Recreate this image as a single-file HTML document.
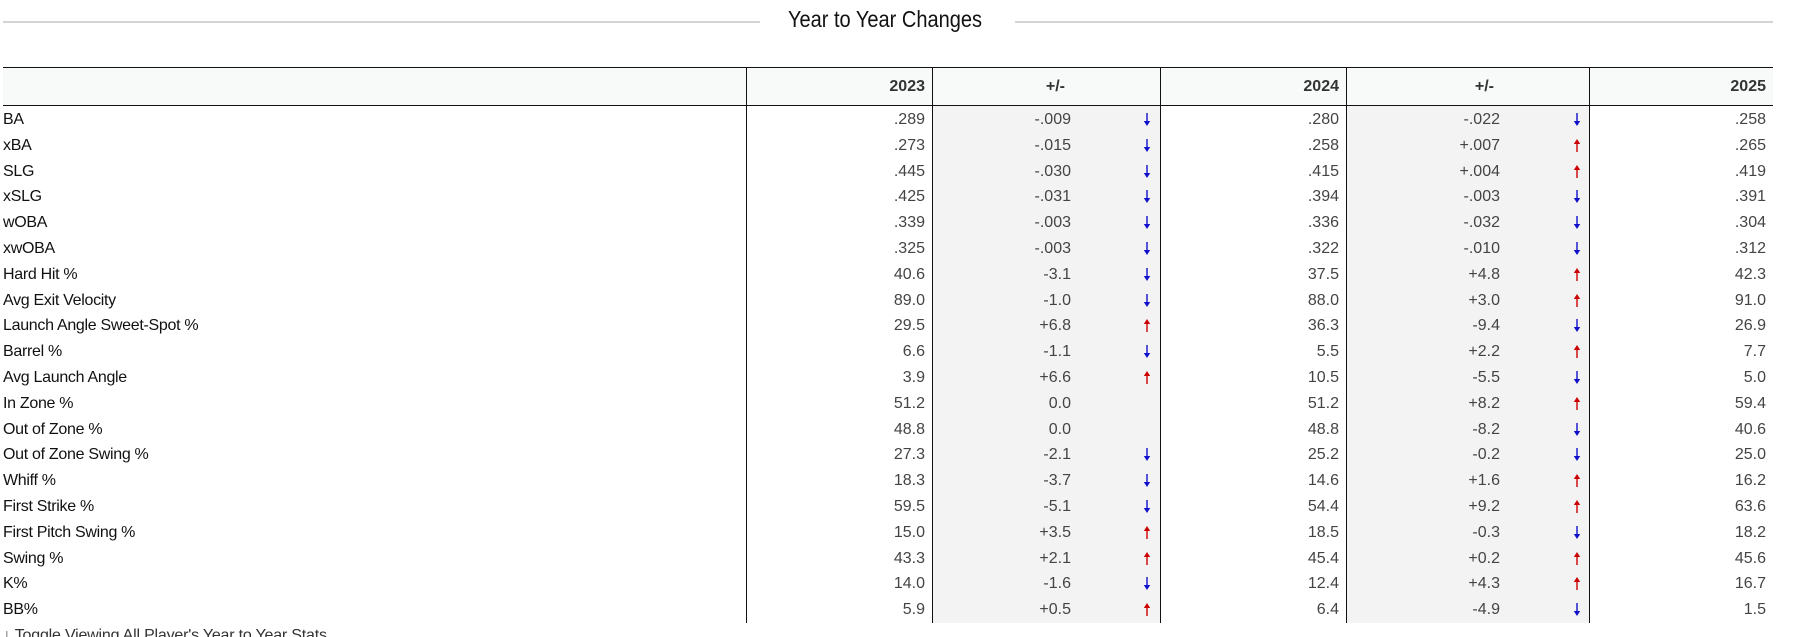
<!DOCTYPE html>
<html>
<head>
<meta charset="utf-8">
<style>
  html { margin:0; padding:0; width:1800px; height:637px; overflow:hidden; }
  body { margin:0; padding:0; width:1800px; height:637px; overflow:hidden; background:#fff; position:relative;
         font-family:"Liberation Sans", "DejaVu Sans", sans-serif; }
  .tline { position:absolute; top:21px; height:2px; background:#d4d4d4; }
  .title { position:absolute; left:788px; top:4px; font-size:23px; line-height:30px; color:#111;
           transform:scaleX(0.87); transform-origin:0 0; white-space:nowrap; }
  .hbg { position:absolute; left:3px; top:68px; width:1770px; height:37px; background:#f8f9f9; }
  .gbg { position:absolute; top:106px; height:517px; background:#f3f3f3; }
  .hl { position:absolute; left:3px; width:1770px; height:1px; background:#111; }
  .vl { position:absolute; top:67px; width:1px; height:556px; background:#111; }
  .row { position:absolute; left:0; width:1800px; height:25.8px; line-height:25.8px; font-size:16px; color:#444; }
  .row span { position:absolute; top:0; white-space:nowrap; }
  .hdr { position:absolute; left:0; top:68px; width:1800px; height:37px; line-height:37px; font-size:16px; font-weight:bold; color:#333; }
  .hdr span { position:absolute; top:0; }
  .lab { left:3px; color:#111; letter-spacing:-0.3px; }
  .c2 { right:875px; }
  .c3 { right:729px; }
  .c4 { right:461px; }
  .c5 { right:300px; }
  .c6 { right:34px; }
  svg.ar { position:absolute; top:6px; width:8px; height:13px; }
  .a1 { left:1143px; }
  .a2 { left:1573px; }
  .toggle { position:absolute; left:3px; top:626px; font-size:16px; line-height:20px; color:#333; white-space:nowrap; letter-spacing:-0.2px; }
</style>
</head>
<body>
  <div class="tline" style="left:3px;width:757px;"></div>
  <div class="tline" style="left:1015px;width:758px;"></div>
  <div class="title">Year to Year Changes</div>

  <div class="hbg"></div>
  <div class="gbg" style="left:933px;width:227px;"></div>
  <div class="gbg" style="left:1347px;width:242px;"></div>

  <div class="hl" style="top:67px;"></div>
  <div class="hl" style="top:105px;"></div>

  <div class="vl" style="left:746px;"></div>
  <div class="vl" style="left:932px;"></div>
  <div class="vl" style="left:1160px;"></div>
  <div class="vl" style="left:1346px;"></div>
  <div class="vl" style="left:1589px;"></div>

  <div class="hdr">
    <span class="c2">2023</span>
    <span style="right:735px;">+/-</span>
    <span class="c4">2024</span>
    <span style="right:306px;">+/-</span>
    <span class="c6">2025</span>
  </div>

  <svg width="0" height="0" style="position:absolute">
    <defs>
      <g id="dn"><rect x="3.3" y="0" width="1.4" height="9" fill="#1010cc"/><polygon points="0.8,8 7.2,8 4,13" fill="#1010cc"/></g>
      <g id="up"><rect x="3.3" y="4" width="1.4" height="9" fill="#cc0000"/><polygon points="0.8,5 7.2,5 4,0" fill="#cc0000"/></g>
    </defs>
  </svg>

  <div class="row" style="top:107px;"><span class="lab">BA</span><span class="c2">.289</span><span class="c3">-.009</span><svg class="ar a1" viewBox="0 0 8 13"><use href="#dn"/></svg><span class="c4">.280</span><span class="c5">-.022</span><svg class="ar a2" viewBox="0 0 8 13"><use href="#dn"/></svg><span class="c6">.258</span></div>
  <div class="row" style="top:132.8px;"><span class="lab">xBA</span><span class="c2">.273</span><span class="c3">-.015</span><svg class="ar a1" viewBox="0 0 8 13"><use href="#dn"/></svg><span class="c4">.258</span><span class="c5">+.007</span><svg class="ar a2" viewBox="0 0 8 13"><use href="#up"/></svg><span class="c6">.265</span></div>
  <div class="row" style="top:158.6px;"><span class="lab">SLG</span><span class="c2">.445</span><span class="c3">-.030</span><svg class="ar a1" viewBox="0 0 8 13"><use href="#dn"/></svg><span class="c4">.415</span><span class="c5">+.004</span><svg class="ar a2" viewBox="0 0 8 13"><use href="#up"/></svg><span class="c6">.419</span></div>
  <div class="row" style="top:184.4px;"><span class="lab">xSLG</span><span class="c2">.425</span><span class="c3">-.031</span><svg class="ar a1" viewBox="0 0 8 13"><use href="#dn"/></svg><span class="c4">.394</span><span class="c5">-.003</span><svg class="ar a2" viewBox="0 0 8 13"><use href="#dn"/></svg><span class="c6">.391</span></div>
  <div class="row" style="top:210.2px;"><span class="lab">wOBA</span><span class="c2">.339</span><span class="c3">-.003</span><svg class="ar a1" viewBox="0 0 8 13"><use href="#dn"/></svg><span class="c4">.336</span><span class="c5">-.032</span><svg class="ar a2" viewBox="0 0 8 13"><use href="#dn"/></svg><span class="c6">.304</span></div>
  <div class="row" style="top:236px;"><span class="lab">xwOBA</span><span class="c2">.325</span><span class="c3">-.003</span><svg class="ar a1" viewBox="0 0 8 13"><use href="#dn"/></svg><span class="c4">.322</span><span class="c5">-.010</span><svg class="ar a2" viewBox="0 0 8 13"><use href="#dn"/></svg><span class="c6">.312</span></div>
  <div class="row" style="top:261.8px;"><span class="lab">Hard Hit %</span><span class="c2">40.6</span><span class="c3">-3.1</span><svg class="ar a1" viewBox="0 0 8 13"><use href="#dn"/></svg><span class="c4">37.5</span><span class="c5">+4.8</span><svg class="ar a2" viewBox="0 0 8 13"><use href="#up"/></svg><span class="c6">42.3</span></div>
  <div class="row" style="top:287.6px;"><span class="lab">Avg Exit Velocity</span><span class="c2">89.0</span><span class="c3">-1.0</span><svg class="ar a1" viewBox="0 0 8 13"><use href="#dn"/></svg><span class="c4">88.0</span><span class="c5">+3.0</span><svg class="ar a2" viewBox="0 0 8 13"><use href="#up"/></svg><span class="c6">91.0</span></div>
  <div class="row" style="top:313.4px;"><span class="lab">Launch Angle Sweet-Spot %</span><span class="c2">29.5</span><span class="c3">+6.8</span><svg class="ar a1" viewBox="0 0 8 13"><use href="#up"/></svg><span class="c4">36.3</span><span class="c5">-9.4</span><svg class="ar a2" viewBox="0 0 8 13"><use href="#dn"/></svg><span class="c6">26.9</span></div>
  <div class="row" style="top:339.2px;"><span class="lab">Barrel %</span><span class="c2">6.6</span><span class="c3">-1.1</span><svg class="ar a1" viewBox="0 0 8 13"><use href="#dn"/></svg><span class="c4">5.5</span><span class="c5">+2.2</span><svg class="ar a2" viewBox="0 0 8 13"><use href="#up"/></svg><span class="c6">7.7</span></div>
  <div class="row" style="top:365px;"><span class="lab">Avg Launch Angle</span><span class="c2">3.9</span><span class="c3">+6.6</span><svg class="ar a1" viewBox="0 0 8 13"><use href="#up"/></svg><span class="c4">10.5</span><span class="c5">-5.5</span><svg class="ar a2" viewBox="0 0 8 13"><use href="#dn"/></svg><span class="c6">5.0</span></div>
  <div class="row" style="top:390.8px;"><span class="lab">In Zone %</span><span class="c2">51.2</span><span class="c3">0.0</span><span class="c4">51.2</span><span class="c5">+8.2</span><svg class="ar a2" viewBox="0 0 8 13"><use href="#up"/></svg><span class="c6">59.4</span></div>
  <div class="row" style="top:416.6px;"><span class="lab">Out of Zone %</span><span class="c2">48.8</span><span class="c3">0.0</span><span class="c4">48.8</span><span class="c5">-8.2</span><svg class="ar a2" viewBox="0 0 8 13"><use href="#dn"/></svg><span class="c6">40.6</span></div>
  <div class="row" style="top:442.4px;"><span class="lab">Out of Zone Swing %</span><span class="c2">27.3</span><span class="c3">-2.1</span><svg class="ar a1" viewBox="0 0 8 13"><use href="#dn"/></svg><span class="c4">25.2</span><span class="c5">-0.2</span><svg class="ar a2" viewBox="0 0 8 13"><use href="#dn"/></svg><span class="c6">25.0</span></div>
  <div class="row" style="top:468.2px;"><span class="lab">Whiff %</span><span class="c2">18.3</span><span class="c3">-3.7</span><svg class="ar a1" viewBox="0 0 8 13"><use href="#dn"/></svg><span class="c4">14.6</span><span class="c5">+1.6</span><svg class="ar a2" viewBox="0 0 8 13"><use href="#up"/></svg><span class="c6">16.2</span></div>
  <div class="row" style="top:494px;"><span class="lab">First Strike %</span><span class="c2">59.5</span><span class="c3">-5.1</span><svg class="ar a1" viewBox="0 0 8 13"><use href="#dn"/></svg><span class="c4">54.4</span><span class="c5">+9.2</span><svg class="ar a2" viewBox="0 0 8 13"><use href="#up"/></svg><span class="c6">63.6</span></div>
  <div class="row" style="top:519.8px;"><span class="lab">First Pitch Swing %</span><span class="c2">15.0</span><span class="c3">+3.5</span><svg class="ar a1" viewBox="0 0 8 13"><use href="#up"/></svg><span class="c4">18.5</span><span class="c5">-0.3</span><svg class="ar a2" viewBox="0 0 8 13"><use href="#dn"/></svg><span class="c6">18.2</span></div>
  <div class="row" style="top:545.6px;"><span class="lab">Swing %</span><span class="c2">43.3</span><span class="c3">+2.1</span><svg class="ar a1" viewBox="0 0 8 13"><use href="#up"/></svg><span class="c4">45.4</span><span class="c5">+0.2</span><svg class="ar a2" viewBox="0 0 8 13"><use href="#up"/></svg><span class="c6">45.6</span></div>
  <div class="row" style="top:571.4px;"><span class="lab">K%</span><span class="c2">14.0</span><span class="c3">-1.6</span><svg class="ar a1" viewBox="0 0 8 13"><use href="#dn"/></svg><span class="c4">12.4</span><span class="c5">+4.3</span><svg class="ar a2" viewBox="0 0 8 13"><use href="#up"/></svg><span class="c6">16.7</span></div>
  <div class="row" style="top:597.2px;"><span class="lab">BB%</span><span class="c2">5.9</span><span class="c3">+0.5</span><svg class="ar a1" viewBox="0 0 8 13"><use href="#up"/></svg><span class="c4">6.4</span><span class="c5">-4.9</span><svg class="ar a2" viewBox="0 0 8 13"><use href="#dn"/></svg><span class="c6">1.5</span></div>

  <div class="toggle">↓ Toggle Viewing All Player's Year to Year Stats</div>
</body>
</html>
